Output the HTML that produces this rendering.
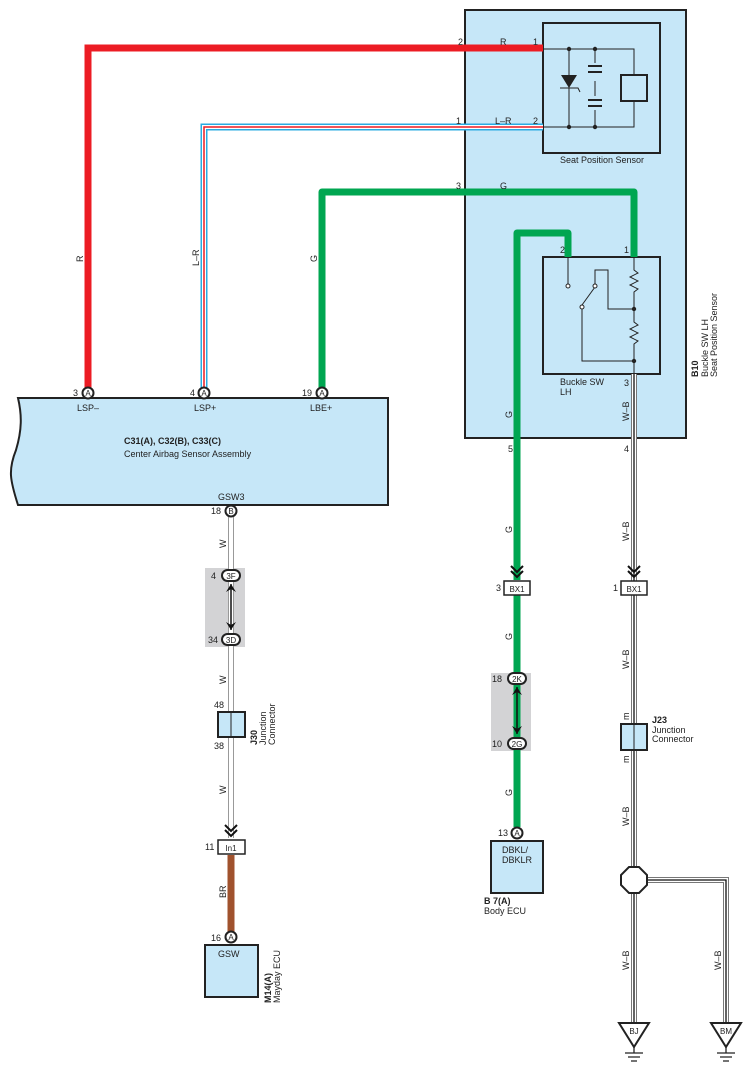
<!DOCTYPE html>
<html><head><style>body{margin:0;background:#fff}svg{display:block}text{font-family:"Liberation Sans",sans-serif;font-size:9px;fill:#222}</style></head><body>
<svg width="752" height="1076" viewBox="0 0 752 1076">
<defs>
<g id="arr"><path d="M-6,-6 L0,0 L6,-6 M-6,-1 L0,5 L6,-1" fill="none" stroke="#111" stroke-width="2"/></g>
</defs>
<rect x="465" y="10" width="221" height="428" fill="#c6e7f8" stroke="#222" stroke-width="2"/>
<rect x="543" y="23" width="117" height="130" fill="#c6e7f8" stroke="#222" stroke-width="2"/>
<rect x="543" y="257" width="117" height="117" fill="#c6e7f8" stroke="#222" stroke-width="2"/>
<path d="M18,398 L388,398 L388,505 L18,505 C10,480 8,470 16,450 C22,430 22,415 18,398 Z" fill="#c6e7f8" stroke="#222" stroke-width="2"/>
<rect x="205" y="568" width="40" height="79" fill="#d3d3d5"/>
<rect x="491" y="673" width="40" height="78" fill="#d3d3d5"/>
<path d="M88,390 L88,48 L543,48" fill="none" stroke="#ec1c24" stroke-width="7"/>
<path d="M204,390 L204,127 L543,127" fill="none" stroke="#29abe2" stroke-width="7"/>
<path d="M204,390 L204,127 L543,127" fill="none" stroke="#fff" stroke-width="4"/>
<path d="M204,390 L204,127 L543,127" fill="none" stroke="#ec1c24" stroke-width="1.5"/>
<path d="M322,390 L322,192 L634,192 L634,257" fill="none" stroke="#00a651" stroke-width="7" stroke-linejoin="round"/>
<path d="M517,580 L517,233 L568,233 L568,257" fill="none" stroke="#00a651" stroke-width="7" stroke-linejoin="round"/>
<path d="M517,595 L517,827" fill="none" stroke="#00a651" stroke-width="7"/>
<path d="M231,517 L231,838" stroke="#999" stroke-width="6" fill="none"/><path d="M231,517 L231,838" stroke="#fff" stroke-width="4" fill="none"/>
<path d="M231,855 L231,932" stroke="#a0522d" stroke-width="7"/>
<g fill="none">
<path d="M634,374 L634,867" stroke="#777" stroke-width="6"/><path d="M634,374 L634,867" stroke="#fff" stroke-width="4"/><path d="M634,374 L634,867" stroke="#111" stroke-width="1.3"/>
<path d="M634,893 L634,1022" stroke="#777" stroke-width="6"/><path d="M634,893 L634,1022" stroke="#fff" stroke-width="4"/><path d="M634,893 L634,1022" stroke="#111" stroke-width="1.3"/>
<path d="M645,880 L726,880 L726,1022" stroke="#777" stroke-width="6"/><path d="M645,880 L726,880 L726,1022" stroke="#fff" stroke-width="4"/><path d="M645,880 L726,880 L726,1022" stroke="#111" stroke-width="1.3"/>
</g>
<g stroke="#222" stroke-width="1" fill="none">
<path d="M543,49 L634,49 L634,127 L543,127"/>
<path d="M569,49 L569,127 M595,49 L595,127"/>
<rect x="621" y="75" width="26" height="26" stroke-width="2" fill="#c6e7f8"/>
</g>
<rect x="589" y="63" width="12" height="18" fill="#c6e7f8"/><rect x="589" y="96" width="12" height="14" fill="#c6e7f8"/>
<path d="M588,66 h14 M588,72 h14 M588,100 h14 M588,106 h14" stroke="#222" stroke-width="2"/>
<path d="M561,75 L577,75 L569,88 Z" fill="#222"/><path d="M560,88 L578,88 L580,92" stroke="#222" fill="none"/>
<g fill="#222"><circle cx="569" cy="49" r="2.2"/><circle cx="595" cy="49" r="2.2"/><circle cx="569" cy="127" r="2.2"/><circle cx="595" cy="127" r="2.2"/></g>
<g stroke="#222" stroke-width="1" fill="none">
<path d="M568,257 L568,285"/><circle cx="568" cy="286" r="2" fill="#fff"/>
<path d="M634,257 L634,270 l4,3 -8,4 8,4 -8,4 8,4 -4,3 L634,309 L634,322 l4,3 -8,4 8,4 -8,4 8,4 -4,3 L634,361 L634,374"/>
<path d="M595,285 L595,270 L608,270 L608,309 L634,309"/>
<path d="M582,305 L595,287"/><circle cx="595" cy="286" r="2" fill="#fff"/><circle cx="582" cy="307" r="2" fill="#fff"/>
<path d="M582,309 L582,361 L634,361"/>
</g>
<circle cx="634" cy="309" r="2.2" fill="#222"/><circle cx="634" cy="361" r="2.2" fill="#222"/>
<g fill="#fff" stroke="#222" stroke-width="2"><circle cx="88" cy="393" r="5.5"/><circle cx="204" cy="393" r="5.5"/><circle cx="322" cy="393" r="5.5"/><circle cx="231" cy="511" r="5.5"/><circle cx="231" cy="937" r="5.5"/><circle cx="517" cy="833" r="5.5"/>
<rect x="222" y="570" width="18" height="11" rx="5.5"/><rect x="222" y="634" width="18" height="11" rx="5.5"/>
<rect x="508" y="673" width="18" height="11" rx="5.5"/><rect x="508" y="738" width="18" height="11" rx="5.5"/>
<rect x="218" y="840" width="27" height="14" stroke-width="1.5"/><rect x="504" y="581" width="26" height="14" stroke-width="1.5"/><rect x="621" y="581" width="26" height="14" stroke-width="1.5"/>
</g>
<g text-anchor="middle"><text x="88" y="396" style="font-size:8px">A</text><text x="204" y="396" style="font-size:8px">A</text><text x="322" y="396" style="font-size:8px">A</text><text x="231" y="514" style="font-size:8px">B</text><text x="231" y="940" style="font-size:8px">A</text><text x="517" y="836" style="font-size:8px">A</text>
<text x="231" y="579" style="font-size:8px">3F</text><text x="231" y="643" style="font-size:8px">3D</text><text x="517" y="682" style="font-size:8px">2K</text><text x="517" y="747" style="font-size:8px">2G</text>
<text x="231" y="851" style="font-size:8px">In1</text><text x="517" y="592" style="font-size:8px">BX1</text><text x="634" y="592" style="font-size:8px">BX1</text></g>
<path d="M231,584 L231,630" stroke="#111" stroke-width="1.5"/><path d="M226,592 L231,584 L236,592 L231,589Z M226,622 L231,630 L236,622 L231,625Z" fill="#111"/>
<path d="M517,687 L517,734" stroke="#111" stroke-width="1.5"/><path d="M512,695 L517,687 L522,695 L517,692Z M512,726 L517,734 L522,726 L517,729Z" fill="#111"/>
<use href="#arr" x="231" y="831"/><use href="#arr" x="517" y="572"/><use href="#arr" x="634" y="572"/>
<rect x="218" y="712" width="27" height="25" fill="#c6e7f8" stroke="#222" stroke-width="2"/><path d="M231,712 v25" stroke="#222"/>
<rect x="621" y="724" width="26" height="26" fill="#c6e7f8" stroke="#222" stroke-width="2"/><path d="M634,724 v26" stroke="#222"/>
<rect x="205" y="945" width="53" height="52" fill="#c6e7f8" stroke="#222" stroke-width="2"/>
<rect x="491" y="841" width="52" height="52" fill="#c6e7f8" stroke="#222" stroke-width="2"/>
<path d="M629,867 L639,867 L647,875 L647,885 L639,893 L629,893 L621,885 L621,875 Z" fill="#fff" stroke="#222" stroke-width="2"/>
<g stroke="#222" stroke-width="2" fill="#fff"><path d="M619,1023 L649,1023 L634,1047 Z"/><path d="M711,1023 L741,1023 L726,1047 Z"/></g>
<g stroke="#222" stroke-width="1.3"><path d="M634,1047 v6 M625,1053 h18 M628,1057 h12 M631,1061 h6 M726,1047 v6 M717,1053 h18 M720,1057 h12 M723,1061 h6"/></g>
<text x="634" y="1034" text-anchor="middle" style="font-size:8px">BJ</text><text x="726" y="1034" text-anchor="middle" style="font-size:8px">BM</text>
<text x="458" y="45">2</text><text x="500" y="45">R</text><text x="533" y="45">1</text>
<text x="456" y="124">1</text><text x="495" y="124">L–R</text><text x="533" y="124">2</text>
<text x="456" y="189">3</text><text x="500" y="189">G</text>
<text x="560" y="253">2</text><text x="624" y="253">1</text><text x="624" y="386">3</text>
<text x="508" y="452">5</text><text x="624" y="452">4</text>
<text x="560" y="163">Seat Position Sensor</text>
<text x="560" y="385">Buckle SW</text><text x="560" y="395">LH</text>
<text x="73" y="396">3</text><text x="190" y="396">4</text><text x="302" y="396">19</text>
<text x="77" y="411">LSP–</text><text x="194" y="411">LSP+</text><text x="310" y="411">LBE+</text>
<text x="124" y="444" style="font-weight:bold">C31(A), C32(B), C33(C)</text><text x="124" y="457">Center Airbag Sensor Assembly</text>
<text x="218" y="500">GSW3</text><text x="211" y="514">18</text>
<text x="211" y="579">4</text><text x="208" y="643">34</text><text x="214" y="708">48</text><text x="214" y="749">38</text><text x="205" y="850">11</text><text x="211" y="941">16</text>
<text x="218" y="957">GSW</text>
<text x="496" y="591">3</text><text x="613" y="591">1</text><text x="492" y="682">18</text><text x="492" y="747">10</text><text x="498" y="836">13</text>
<text x="502" y="853">DBKL/</text><text x="502" y="863">DBKLR</text>
<text x="484" y="904" style="font-weight:bold">B 7(A)</text><text x="484" y="914">Body ECU</text>
<text x="652" y="723" style="font-weight:bold">J23</text><text x="652" y="733">Junction</text><text x="652" y="742">Connector</text>
<g style="font-size:8px">
<text transform="translate(83,262) rotate(-90)">R</text><text transform="translate(199,266) rotate(-90)">L–R</text><text transform="translate(317,262) rotate(-90)">G</text>
<text transform="translate(512,418) rotate(-90)">G</text><text transform="translate(629,421) rotate(-90)">W–B</text>
<text transform="translate(512,533) rotate(-90)">G</text><text transform="translate(629,541) rotate(-90)">W–B</text>
<text transform="translate(512,640) rotate(-90)">G</text><text transform="translate(629,669) rotate(-90)">W–B</text>
<text transform="translate(629,720) rotate(-90)">m</text><text transform="translate(629,763) rotate(-90)">m</text>
<text transform="translate(512,796) rotate(-90)">G</text><text transform="translate(629,826) rotate(-90)">W–B</text>
<text transform="translate(629,970) rotate(-90)">W–B</text><text transform="translate(721,970) rotate(-90)">W–B</text>
<text transform="translate(226,548) rotate(-90)">W</text><text transform="translate(226,684) rotate(-90)">W</text><text transform="translate(226,794) rotate(-90)">W</text><text transform="translate(226,898) rotate(-90)">BR</text>
</g>
<text transform="translate(257,745) rotate(-90)" style="font-weight:bold">J30</text><text transform="translate(266,745) rotate(-90)">Junction</text><text transform="translate(275,745) rotate(-90)">Connector</text>
<text transform="translate(271,1003) rotate(-90)" style="font-weight:bold">M14(A)</text><text transform="translate(280,1003) rotate(-90)">Mayday ECU</text>
<text transform="translate(698,377) rotate(-90)" style="font-weight:bold">B10</text><text transform="translate(708,377) rotate(-90)">Buckle SW LH</text><text transform="translate(717,377) rotate(-90)">Seat Position Sensor</text>
</svg>
</body></html>
